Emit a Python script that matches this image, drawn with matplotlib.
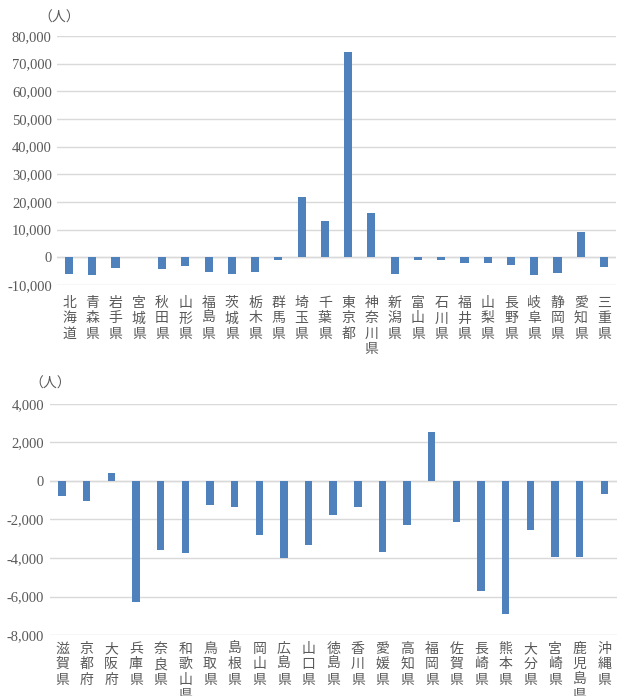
import matplotlib.pyplot as plt
from matplotlib.ticker import FuncFormatter

plt.rcParams['font.family'] = ['Liberation Serif', 'Noto Sans CJK JP', 'DejaVu Sans']

# 転入超過数（人）
east_names = ['北海道', '青森県', '岩手県', '宮城県', '秋田県', '山形県', '福島県', '茨城県',
              '栃木県', '群馬県', '埼玉県', '千葉県', '東京都', '神奈川県', '新潟県', '富山県',
              '石川県', '福井県', '山梨県', '長野県', '岐阜県', '静岡県', '愛知県', '三重県']
east_values = [-6000, -6300, -3900, 0, -4300, -3300, -5400, -5900,
               -5300, -900, 21700, 13200, 74200, 16100, -6100, -1000,
               -900, -2200, -2200, -2900, -6300, -5800, 9000, -3400]

west_names = ['滋賀県', '京都府', '大阪府', '兵庫県', '奈良県', '和歌山県', '鳥取県', '島根県',
              '岡山県', '広島県', '山口県', '徳島県', '香川県', '愛媛県', '高知県', '福岡県',
              '佐賀県', '長崎県', '熊本県', '大分県', '宮崎県', '鹿児島県', '沖縄県']
west_values = [-800, -1020, 400, -6300, -3570, -3740, -1260, -1370,
               -2790, -4020, -3350, -1770, -1330, -3690, -2270, 2550,
               -2150, -5730, -6910, -2530, -3950, -3930, -680]

bar_color = '#4F81BD'
text_color = '#595959'
grid_color = '#d9d9d9'

fig = plt.figure(figsize=(6.21, 6.96), dpi=100)


def draw(ax, names, values, ylim, step, bar_w, pad):
    x = list(range(len(names)))
    ax.bar(x, values, width=bar_w, color=bar_color, zorder=3)
    ax.set_xlim(-0.5, len(names) - 0.5)
    ax.set_ylim(*ylim)
    ax.set_yticks(range(ylim[0], ylim[1] + 1, step))
    ax.yaxis.set_major_formatter(FuncFormatter(lambda v, p: f'{int(v):,}'))
    ax.grid(axis='y', color=grid_color, linewidth=1, zorder=0)
    for s in ax.spines.values():
        s.set_visible(False)
    ax.axhline(0, color=grid_color, linewidth=1, zorder=1)
    ax.tick_params(length=0, colors=text_color)
    ax.tick_params(axis='y', labelsize=10.5, pad=4)
    ax.set_xticks(x)
    ax.set_xticklabels(['\n'.join(n) for n in names], va='top',
                       fontsize=10, linespacing=1.12, family='Noto Sans CJK JP')
    ax.tick_params(axis='x', pad=pad)


ax1 = fig.add_axes([0.0924, 0.5905, 0.899, 0.3578])
draw(ax1, east_names, east_values, (-10000, 80000), 10000, 0.35, 8)
fig.text(0.062, 0.975, '（人）', family='Noto Sans CJK JP', fontsize=10,
         color=text_color, va='center', ha='left')

ax2 = fig.add_axes([0.080, 0.0876, 0.913, 0.332])
draw(ax2, west_names, west_values, (-8000, 4000), 2000, 0.3, 5)
fig.text(0.048, 0.449, '（人）', family='Noto Sans CJK JP', fontsize=10,
         color=text_color, va='center', ha='left')

fig.savefig('out.png', dpi=100, facecolor='white')
